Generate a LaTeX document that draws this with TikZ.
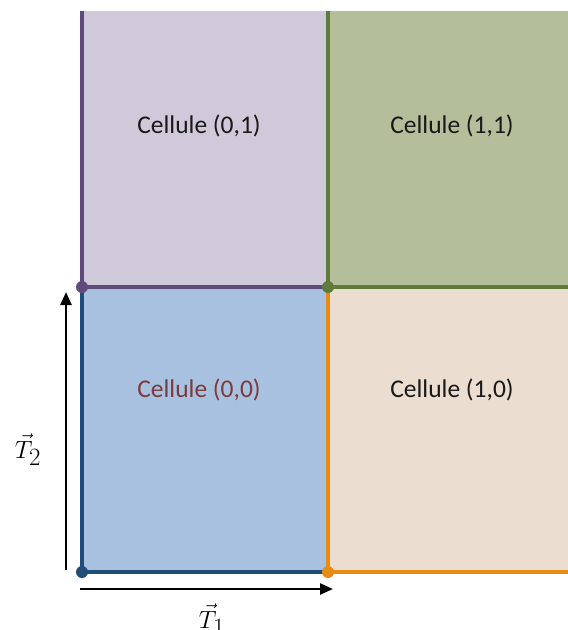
\documentclass[tikz,border=0pt]{standalone}
\usepackage{amsmath}
\usepackage{fontspec}
\setsansfont{Carlito}
\usetikzlibrary{arrows.meta, positioning, calc}
\definecolor{CBfill}{HTML}{A8C1E0}
\definecolor{CBedge}{HTML}{1F4D78}
\definecolor{CPfill}{HTML}{CFC9D9}
\definecolor{CPedge}{HTML}{5F4B7B}
\definecolor{CGfill}{HTML}{B4BE9A}
\definecolor{CGedge}{HTML}{5F7A3A}
\definecolor{COfill}{HTML}{EBDDCF}
\definecolor{COedge}{HTML}{E98A12}
\definecolor{CBtext}{HTML}{7A3B3A}
\tikzset{
  celltxt/.style={font=\sffamily\fontsize{25.5}{30}\selectfont, text=black!90, inner sep=0pt},
  celledge/.style={line width=3.6pt, line join=miter},
  corner/.style={circle, inner sep=0pt, minimum size=12pt},
  vecarr/.style={-{Triangle[length=13pt,width=11pt]}, line width=2.4pt, draw=black},
  veclbl/.style={font=\fontsize{35}{40}\selectfont, inner sep=0pt},
}
\begin{document}
\begin{tikzpicture}[x=1pt, y=-1pt]
  \useasboundingbox (0,0) rectangle (568,630);
  %% Corners of the lattice
  \coordinate (o)   at (82,572);
  \coordinate (a)   at (328,572);
  \coordinate (b)   at (82,287);
  \coordinate (ab)  at (328,287);
  \coordinate (btop) at (82,11);
  \coordinate (abtop) at (328,11);
  \coordinate (aend) at (568,572);
  \coordinate (abend) at (568,287);
  \coordinate (tr)  at (568,11);
  %% Cell fills
  \fill[CPfill] (b) rectangle (abtop);
  \fill[CGfill] (ab) rectangle (tr);
  \fill[CBfill] (o) rectangle (ab);
  \fill[COfill] (a) rectangle (abend);
  %% Cell edges
  \draw[celledge, CPedge] (btop) -- (b) -- (ab);
  \draw[celledge, CGedge] (abtop) -- (ab) -- (abend);
  \draw[celledge, CBedge] (b) -- (o) -- (a);
  \draw[celledge, COedge] (ab) -- (a) -- (aend);
  %% Corner points
  \node[corner, fill=CPedge] (pb)  at (b)  {};
  \node[corner, fill=CGedge] (pab) at (ab) {};
  \node[corner, fill=CBedge] (po)  at (o)  {};
  \node[corner, fill=COedge] (pa)  at (a)  {};
  %% Cell labels
  \node[celltxt] (l01) at (199,126) {Cellule (0,1)};
  \node[celltxt] (l11) at (452,126) {Cellule (1,1)};
  \node[celltxt, text=CBtext] (l00) at (199,390) {Cellule (0,0)};
  \node[celltxt] (l10) at (452,390) {Cellule (1,0)};
  %% Lattice vectors
  \coordinate (t2s) at (66,570);
  \coordinate (t2e) at (66,292);
  \coordinate (t1s) at (80,589);
  \coordinate (t1e) at (333,589);
  \draw[vecarr] (t2s) -- (t2e);
  \draw[vecarr] (t1s) -- (t1e);
  \node[veclbl] (T2) at (28,450) {$\vec{T}_2$};
  \node[veclbl] (T1) at (212,620) {$\vec{T}_1$};
\end{tikzpicture}
\end{document}
